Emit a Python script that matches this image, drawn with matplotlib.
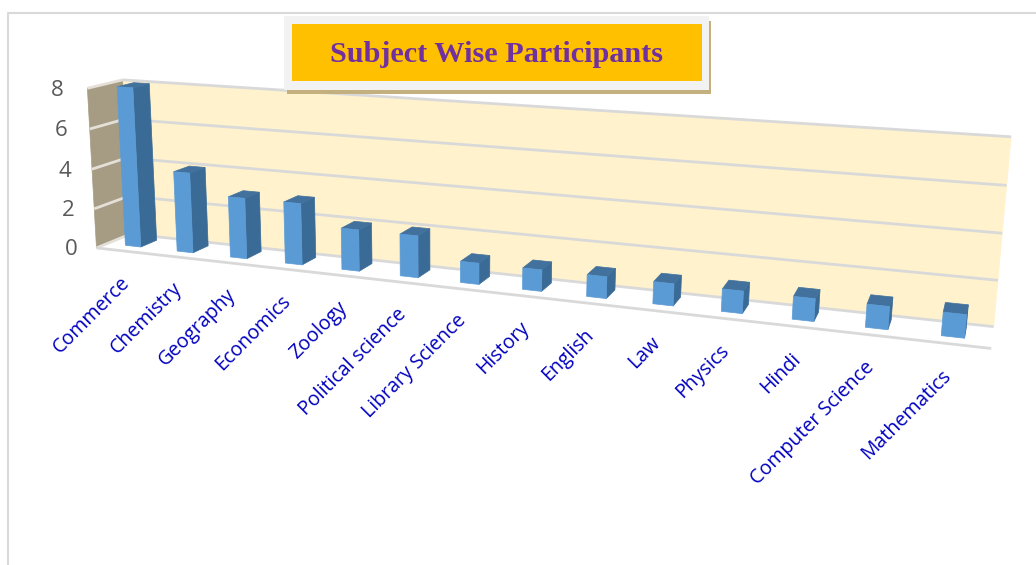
import numpy as np
import matplotlib
matplotlib.use("Agg")
import matplotlib.pyplot as plt
from matplotlib.patches import Polygon, Rectangle

subjects = ["Commerce", "Chemistry", "Geography", "Economics", "Zoology",
            "Political science", "Library Science", "History", "English",
            "Law", "Physics", "Hindi", "Computer Science", "Mathematics"]
participants = [8, 4, 3, 3, 2, 2, 1, 1, 1, 1, 1, 1, 1, 1]
y_ticks = [0, 2, 4, 6, 8]

# box corners of the 3d plot area (x, depth, value) -> pixel
box_3d = [(0, 1, 0), (14, 1, 0), (0, 1, 8), (14, 1, 8), (0, 0, 0), (14, 0, 0), (0, 0, 8)]
box_px = [(128, 235), (994, 325), (125, 80), (1011, 137), (99, 247), (991, 350), (85, 88)]


def fit_camera(pts3, pts2):
    rows, rhs = [], []
    for (x, z, y), (u, v) in zip(pts3, pts2):
        rows.append([x, z, y, 1, 0, 0, 0, 0, -u * x, -u * z, -u * y])
        rhs.append(u)
        rows.append([0, 0, 0, 0, x, z, y, 1, -v * x, -v * z, -v * y])
        rhs.append(v)
    sol = np.linalg.lstsq(np.array(rows, float), np.array(rhs, float), rcond=None)[0]
    return np.append(sol, 1.0).reshape(3, 4)


cam = fit_camera(box_3d, box_px)


def proj(x, z, y):
    p = cam @ np.array([x, z, y, 1.0])
    return p[0] / p[2], p[1] / p[2]


def face(ax, pts, color, zorder=2):
    ax.add_patch(Polygon([proj(*p) for p in pts], closed=True, facecolor=color,
                         edgecolor=color, lw=0.5, zorder=zorder))


def line3(ax, a, b, color="#D9D9D9", lw=2.0, zorder=1.5):
    pa, pb = proj(*a), proj(*b)
    ax.plot([pa[0], pb[0]], [pa[1], pb[1]], color=color, lw=lw, zorder=zorder,
            solid_capstyle="butt")


fig = plt.figure(figsize=(10.36, 5.65), dpi=100)
ax = fig.add_axes([0, 0, 1, 1])
ax.set_xlim(0, 1036)
ax.set_ylim(565, 0)
ax.axis("off")

# chart frame
ax.plot([8, 8, 1036], [565, 13, 13], color="#D9D9D9", lw=1.5, zorder=0.5)

# walls
face(ax, [(0, 1, 0), (14, 1, 0), (14, 1, 8), (0, 1, 8)], "#FFF2CC", 1)
face(ax, [(0, 0, 0), (0, 1, 0), (0, 1, 8), (0, 0, 8)], "#A69C84", 1)

for v in y_ticks:
    line3(ax, (0, 1, v), (14, 1, v))
    line3(ax, (0, 0, v), (0, 1, v), color="#E4E0D8")
    px, py = proj(0, 0, v)
    ax.text(px - 25 - 0.6 * v, py + 2, str(v), color="#595959", fontsize=16,
            family="Open Sans", ha="center", va="center")
line3(ax, (0, 0, 0), (14, 0, 0))

# bars
bar_w = 0.3
for i, val in enumerate(participants):
    x0, x1 = i + 0.5 - bar_w / 2, i + 0.5 + bar_w / 2
    z0, z1 = 0.32, 0.8
    face(ax, [(x1, z0, 0), (x1, z1, 0), (x1, z1, val), (x1, z0, val)], "#3A6A96", 3)
    face(ax, [(x0, z0, val), (x1, z0, val), (x1, z1, val), (x0, z1, val)], "#41719C", 3)
    face(ax, [(x0, z0, 0), (x1, z0, 0), (x1, z0, val), (x0, z0, val)], "#5B9BD5", 3)

# category labels
for i, name in enumerate(subjects):
    px, py = proj(i + 0.5, 0, 0)
    dx = 5 - 8 * (px - 125) / 755
    ax.text(px + dx, py + 29, name, color="#0000BF", fontsize=14.1, family="Open Sans",
            rotation=45, rotation_mode="anchor", ha="right", va="center")

# title box
ax.add_patch(Rectangle((287, 21), 424, 73, facecolor="#C4B07F", edgecolor="none", zorder=5))
ax.add_patch(Rectangle((284, 16), 425, 74, facecolor="#F2F2F2", edgecolor="none", zorder=6))
ax.add_patch(Rectangle((292, 24), 410, 57, facecolor="#FFC000", edgecolor="none", zorder=7))
ax.text(497, 54, "Subject Wise Participants", color="#7030A0", fontsize=21.8, weight="bold",
        family="Liberation Serif", ha="center", va="center", zorder=8)

fig.savefig("out.png", dpi=100)
